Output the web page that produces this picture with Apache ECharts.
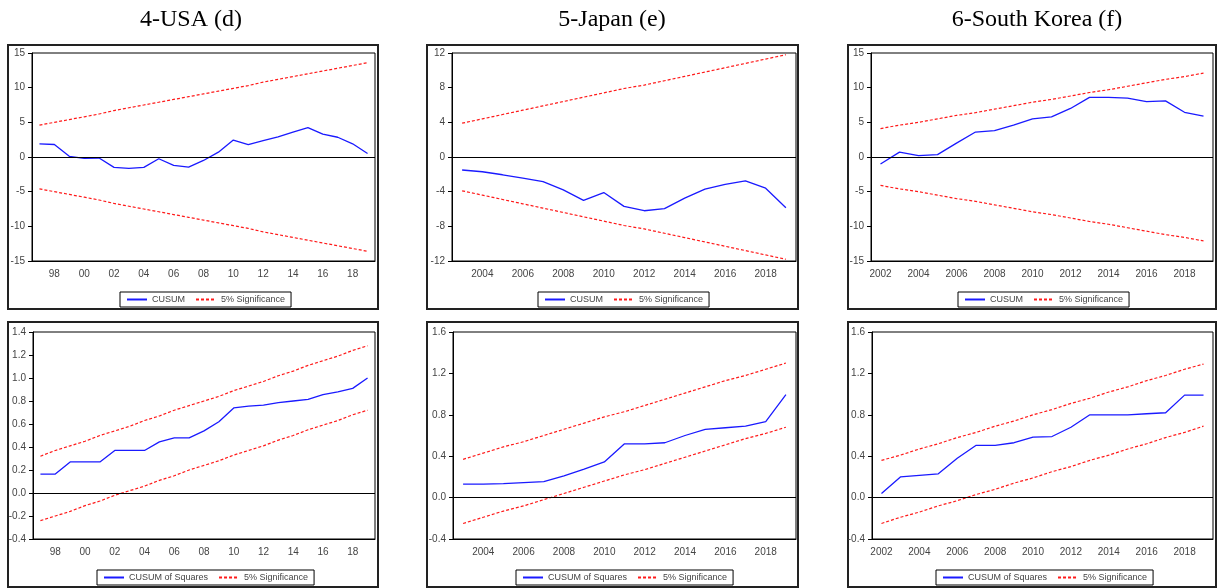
<!DOCTYPE html>
<html>
<head>
<meta charset="utf-8">
<script src="https://cdn.jsdelivr.net/npm/echarts@6/dist/echarts.min.js"></script>
<style>
  html, body { margin: 0; padding: 0; background: #fff; }
  #chart { width: 1217px; height: 588px; }
</style>
</head>
<body>
<div id="chart"></div>
<script>
var usaYears = ['1997','1998','1999','2000','2001','2002','2003','2004','2005','2006','2007','2008','2009','2010','2011','2012','2013','2014','2015','2016','2017','2018','2019'];
var japYears = ['2003','2004','2005','2006','2007','2008','2009','2010','2011','2012','2013','2014','2015','2016','2017','2018','2019'];
var korYears = ['2002','2003','2004','2005','2006','2007','2008','2009','2010','2011','2012','2013','2014','2015','2016','2017','2018','2019'];

// CUSUM (top row)
var usaCusum = [1.9, 1.8, 0.1, -0.2, -0.15, -1.5, -1.65, -1.5, -0.25, -1.2, -1.45, -0.5, 0.7, 2.45, 1.8, 2.35, 2.9, 3.6, 4.25, 3.3, 2.85, 1.9, 0.5];
var usaUpper = [4.6, 5.0, 5.4, 5.8, 6.2, 6.7, 7.1, 7.5, 7.9, 8.3, 8.7, 9.1, 9.5, 9.9, 10.3, 10.8, 11.2, 11.6, 12.0, 12.4, 12.8, 13.2, 13.6];
var usaLower = [-4.6, -5.0, -5.4, -5.8, -6.2, -6.7, -7.1, -7.5, -7.9, -8.3, -8.7, -9.1, -9.5, -9.9, -10.3, -10.8, -11.2, -11.6, -12.0, -12.4, -12.8, -13.2, -13.6];

var japCusum = [-1.5, -1.7, -2.05, -2.45, -2.85, -3.8, -5.0, -4.1, -5.7, -6.2, -5.95, -4.75, -3.7, -3.15, -2.75, -3.6, -5.85];
var japUpper = [3.9, 4.4, 4.9, 5.4, 5.9, 6.4, 6.9, 7.4, 7.9, 8.3, 8.8, 9.3, 9.8, 10.3, 10.8, 11.3, 11.8];
var japLower = [-3.9, -4.4, -4.9, -5.4, -5.9, -6.4, -6.9, -7.4, -7.9, -8.3, -8.8, -9.3, -9.8, -10.3, -10.8, -11.3, -11.8];

var korCusum = [-1.0, 0.7, 0.2, 0.35, 2.0, 3.6, 3.8, 4.6, 5.5, 5.8, 7.0, 8.6, 8.6, 8.5, 8.0, 8.1, 6.45, 5.9];
var korUpper = [4.1, 4.6, 5.0, 5.5, 6.0, 6.4, 6.9, 7.4, 7.9, 8.3, 8.8, 9.3, 9.7, 10.2, 10.7, 11.2, 11.6, 12.1];
var korLower = [-4.1, -4.6, -5.0, -5.5, -6.0, -6.4, -6.9, -7.4, -7.9, -8.3, -8.8, -9.3, -9.7, -10.2, -10.7, -11.2, -11.6, -12.1];

// CUSUM of squares (bottom row)
var usaSq = [0.165, 0.165, 0.27, 0.27, 0.27, 0.37, 0.37, 0.37, 0.445, 0.48, 0.48, 0.54, 0.62, 0.74, 0.755, 0.765, 0.785, 0.8, 0.815, 0.855, 0.88, 0.91, 1.0];
var usaSqUpper = [0.32, 0.37, 0.41, 0.45, 0.5, 0.54, 0.58, 0.63, 0.67, 0.72, 0.76, 0.8, 0.84, 0.89, 0.93, 0.97, 1.02, 1.06, 1.11, 1.15, 1.19, 1.24, 1.28];
var usaSqLower = [-0.24, -0.2, -0.16, -0.11, -0.07, -0.02, 0.02, 0.06, 0.11, 0.15, 0.2, 0.24, 0.28, 0.33, 0.37, 0.41, 0.46, 0.5, 0.55, 0.59, 0.63, 0.68, 0.72];

var japSq = [0.13, 0.13, 0.135, 0.145, 0.155, 0.21, 0.275, 0.345, 0.52, 0.52, 0.53, 0.6, 0.66, 0.675, 0.69, 0.735, 0.995];
var japSqUpper = [0.37, 0.43, 0.49, 0.54, 0.6, 0.66, 0.72, 0.78, 0.83, 0.89, 0.95, 1.01, 1.07, 1.13, 1.18, 1.24, 1.3];
var japSqLower = [-0.25, -0.19, -0.13, -0.08, -0.02, 0.04, 0.1, 0.16, 0.22, 0.27, 0.33, 0.39, 0.45, 0.51, 0.57, 0.62, 0.68];

var korSq = [0.04, 0.2, 0.215, 0.23, 0.38, 0.505, 0.505, 0.53, 0.585, 0.59, 0.68, 0.8, 0.8, 0.8, 0.81, 0.82, 0.99, 0.99];
var korSqUpper = [0.36, 0.41, 0.47, 0.52, 0.58, 0.63, 0.69, 0.74, 0.8, 0.85, 0.91, 0.96, 1.02, 1.07, 1.13, 1.18, 1.24, 1.29];
var korSqLower = [-0.25, -0.19, -0.14, -0.08, -0.03, 0.03, 0.08, 0.14, 0.19, 0.25, 0.3, 0.36, 0.41, 0.47, 0.52, 0.58, 0.63, 0.69];

var titles = ['4-USA (d)', '5-Japan (e)', '6-South Korea (f)'];

(function () {
  var blue = '#1a1aff';
  var red = '#ff1a1a';
  var labelColor = '#444';
  var font = 'Liberation Sans, Arial, sans-serif';

  var panels = [
    { years: usaYears, main: usaCusum, up: usaUpper, lo: usaLower, name: 'CUSUM', min: -15, max: 15, step: 5, dec: 0, short: true, labelOdd: true,
      grid: [32, 53, 343, 208], box: [8, 45, 370, 264], legend: [120, 292] },
    { years: japYears, main: japCusum, up: japUpper, lo: japLower, name: 'CUSUM', min: -12, max: 12, step: 4, dec: 0, short: false, labelOdd: true,
      grid: [452, 53, 344, 208], box: [427, 45, 371, 264], legend: [538, 292] },
    { years: korYears, main: korCusum, up: korUpper, lo: korLower, name: 'CUSUM', min: -15, max: 15, step: 5, dec: 0, short: false, labelOdd: false,
      grid: [871, 53, 342, 208], box: [848, 45, 368, 264], legend: [958, 292] },
    { years: usaYears, main: usaSq, up: usaSqUpper, lo: usaSqLower, name: 'CUSUM of Squares', min: -0.4, max: 1.4, step: 0.2, dec: 1, short: true, labelOdd: true,
      grid: [33, 332, 342, 207], box: [8, 322, 370, 265], legend: [97, 570] },
    { years: japYears, main: japSq, up: japSqUpper, lo: japSqLower, name: 'CUSUM of Squares', min: -0.4, max: 1.6, step: 0.4, dec: 1, short: false, labelOdd: true,
      grid: [453, 332, 343, 207], box: [427, 322, 371, 265], legend: [516, 570] },
    { years: korYears, main: korSq, up: korSqUpper, lo: korSqLower, name: 'CUSUM of Squares', min: -0.4, max: 1.6, step: 0.4, dec: 1, short: false, labelOdd: false,
      grid: [872, 332, 341, 207], box: [848, 322, 368, 265], legend: [936, 570] }
  ];

  var grids = [], xAxes = [], yAxes = [], series = [], legends = [], graphics = [];

  panels.forEach(function (p, i) {
    grids.push({
      left: p.grid[0], top: p.grid[1], width: p.grid[2], height: p.grid[3],
      show: true, borderColor: '#000', borderWidth: 1, backgroundColor: '#fff'
    });
    xAxes.push({
      gridIndex: i,
      type: 'category',
      data: p.years,
      boundaryGap: true,
      axisLine: { onZero: false, lineStyle: { color: '#000', width: 1 } },
      axisTick: { interval: 0, length: 5, lineStyle: { color: '#000' } },
      axisLabel: {
        margin: 8,
        color: labelColor,
        fontFamily: font,
        fontSize: 10,
        interval: (function (odd) {
          return function (idx) { return odd ? idx % 2 === 1 : idx % 2 === 0; };
        })(p.labelOdd),
        formatter: (function (short) {
          return function (v) { return short ? v.slice(2) : v; };
        })(p.short)
      },
      splitLine: { show: false }
    });
    yAxes.push({
      gridIndex: i,
      type: 'value',
      min: p.min, max: p.max, interval: p.step,
      axisLine: { show: true, lineStyle: { color: '#000', width: 1 } },
      axisTick: { show: true, length: 4, lineStyle: { color: '#000' } },
      axisLabel: {
        margin: 7,
        color: labelColor,
        fontFamily: font,
        fontSize: 10,
        formatter: (function (dec) {
          return function (v) { return (+v).toFixed(dec); };
        })(p.dec)
      },
      splitLine: { show: false }
    });
    series.push({
      name: p.name,
      type: 'line',
      xAxisIndex: i, yAxisIndex: i,
      data: p.main,
      symbol: 'none',
      z: 4,
      lineStyle: { color: blue, width: 1.3 },
      itemStyle: { color: blue },
      markLine: {
        silent: true,
        symbol: 'none',
        label: { show: false },
        lineStyle: { color: '#000', type: 'solid', width: 1 },
        data: [{ yAxis: 0 }]
      }
    });
    [p.up, p.lo].forEach(function (b) {
      series.push({
        name: '5% Significance',
        type: 'line',
        xAxisIndex: i, yAxisIndex: i,
        data: b,
        symbol: 'none',
        z: 3,
        lineStyle: { color: red, width: 1.2, type: [3, 2] },
        itemStyle: { color: red }
      });
    });
    legends.push({
      left: p.legend[0], top: p.legend[1],
      orient: 'horizontal',
      data: [p.name, '5% Significance'],
      selectedMode: false,
      borderColor: '#000', borderWidth: 1,
      padding: [3, 6, 3, 6],
      itemWidth: 20, itemHeight: 8, itemGap: 10,
      itemStyle: { opacity: 0 },
      textStyle: { fontSize: 9, color: labelColor, fontFamily: font }
    });
    graphics.push({
      type: 'rect',
      shape: { x: p.box[0], y: p.box[1], width: p.box[2], height: p.box[3] },
      style: { fill: null, stroke: '#222', lineWidth: 2 },
      z: -1, silent: true
    });
  });

  titles.forEach(function (t, i) {
    graphics.push({
      type: 'text',
      x: [191, 612, 1037][i], y: 20,
      style: {
        text: t, fill: '#000',
        font: '24px "Liberation Serif", "Times New Roman", serif',
        textAlign: 'center', textVerticalAlign: 'middle'
      },
      silent: true
    });
  });

  var chart = echarts.init(document.getElementById('chart'), null, { renderer: 'canvas' });
  chart.setOption({
    animation: false,
    backgroundColor: '#fff',
    grid: grids,
    xAxis: xAxes,
    yAxis: yAxes,
    legend: legends,
    series: series,
    graphic: graphics
  });
  window.addEventListener('resize', function () { chart.resize(); });
})();
</script>
</body>
</html>
